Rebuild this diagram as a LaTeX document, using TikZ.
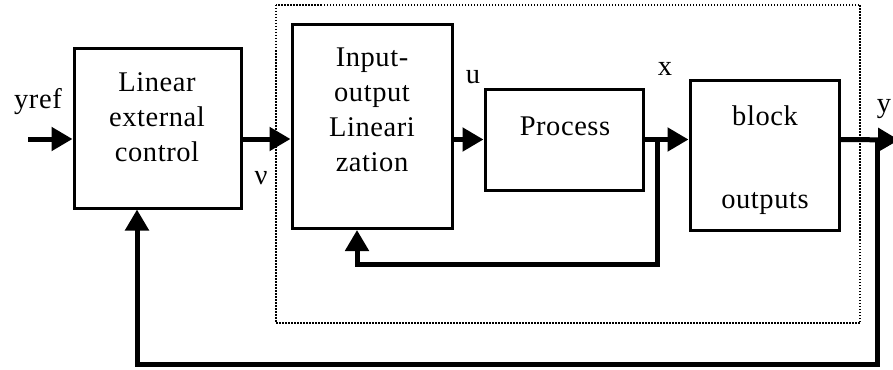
\documentclass[tikz,border=0pt]{standalone}
\usepackage{fontspec}
\setmainfont{Liberation Serif}[LetterSpace=2]
\usetikzlibrary{arrows.meta}

\begin{document}
\begin{tikzpicture}[x=1pt,y=-1pt,
    every node/.style={font=\fontsize{28.5}{35}\selectfont},
    box/.style={draw,line width=3pt,inner sep=0pt},
    txt/.style={align=center},
    sig/.style={line width=5pt,line join=miter,
      -{Triangle[length=21pt,width=23pt]}}]
  \useasboundingbox[fill=white] (0,0) rectangle (893,369);

  % blocks
  \node[box,minimum width=167pt,minimum height=159pt] (ext) at (157.5,128.5) {};
  \node[box,minimum width=160pt,minimum height=204pt] (iol) at (372,126.5) {};
  \node[box,minimum width=158pt,minimum height=101pt] (proc) at (564,139.5) {};
  \node[box,minimum width=149pt,minimum height=150pt] (outb) at (764.5,155) {};

  \node[txt] (ext-t) at (157,117) {Linear\\external\\control};
  \node[txt] (iol-t) at (372,110) {Input-\\output\\Lineari\\zation};
  \node[txt] (proc-t) at (565,126) {Process};
  \node[txt] (outb-t) at (765,160) {block\\[48pt]outputs};

  % dotted frame round the linearized process
  \draw[line width=1.5pt,dash pattern=on 1.5pt off 1.5pt]
    (276,5) rectangle (860,323);

  % signals
  \coordinate (yin) at (28,139);
  \coordinate (yout) at (899,140);
  \draw[sig] (yin) -- (yin -| ext.west);
  \draw[sig] (yin -| ext.east) -- (yin -| iol.west);
  \draw[sig] (proc.west -| iol.east) -- (proc.west);
  \draw[sig] (proc.east) -- (proc.east -| outb.west);
  \draw[sig] (proc.east -| outb.east) -- (yout);

  \node (yref) at (38,102) {yref};
  \node (nu) at (261,178) {ν};
  \node (u) at (473,77) {u};
  \node (x) at (665,69) {x};
  \node (y) at (884,109) {y};

  % feedback loops
  \coordinate (xb) at (657,140);
  \coordinate (fb1) at (357,264);
  \draw[sig] (xb) |- (fb1) -- (fb1 |- iol.south);
  \coordinate (yb) at (877,140);
  \coordinate (fb2) at (137,364);
  \draw[sig] (yb) |- (fb2) -- (fb2 |- ext.south);
\end{tikzpicture}
\end{document}
